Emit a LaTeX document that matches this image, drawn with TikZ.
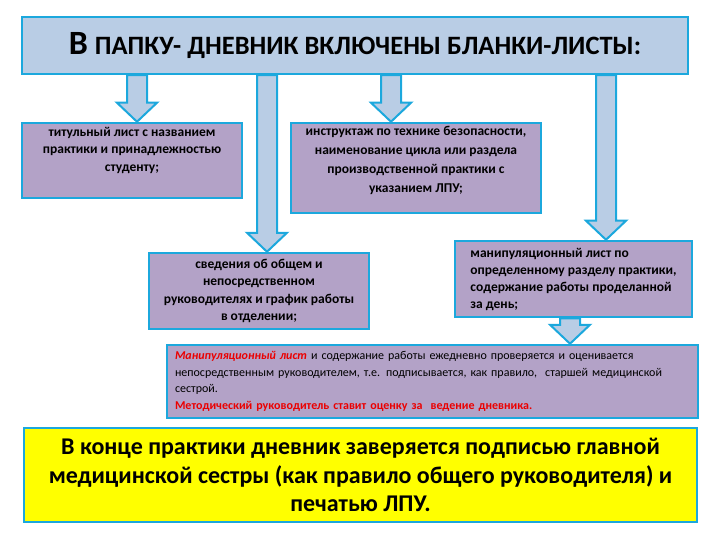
\documentclass[tikz,border=0pt]{standalone}
\usepackage{fontspec}
\setmainfont{Carlito}
\usepackage{tikz}
\usetikzlibrary{calc, backgrounds}
\definecolor{frameblue}{RGB}{28,168,221}
\definecolor{capblue}{RGB}{185,205,229}
\definecolor{sheetlilac}{RGB}{179,162,199}
\definecolor{noteyellow}{RGB}{255,255,0}
\definecolor{notered}{RGB}{235,0,0}
\tikzstyle{header} = [rectangle, draw=frameblue, line width=2.5pt, fill=capblue, minimum width=666pt, minimum height=57pt, text centered, font=\bfseries]
\tikzstyle{sheet} = [rectangle, draw=frameblue, line width=2.5pt, fill=sheetlilac, align=center, font=\bfseries\fontsize{13.5}{17.5}\selectfont]
\tikzstyle{summary} = [rectangle, draw=frameblue, line width=2.5pt, fill=noteyellow, align=center, minimum width=673pt, minimum height=94pt, font=\bfseries\fontsize{24}{28.5}\selectfont]
\tikzstyle{barrow} = [draw=frameblue, line width=2pt, fill=capblue, line join=miter]
% block arrow: #1 top point, #2 tip point
\newcommand{\blockarrow}[2]{%
  \draw[barrow] let \p1=(#1), \p2=(#2) in
    (\x1-10pt,\y1) -- (\x1+10pt,\y1) -- (\x1+10pt,\y2+19pt) -- (\x1+20pt,\y2+19pt)
    -- (\x1,\y2) -- (\x1-20pt,\y2+19pt) -- (\x1-10pt,\y2+19pt) -- cycle;}

\begin{document}
\begin{tikzpicture}[x=1pt, y=-1pt]
\useasboundingbox (0,0) rectangle (720,540);

\node (title) [header] at (355,45.5) {\fontsize{34}{36}\selectfont В\hspace{7pt}\fontsize{26.5}{36}\selectfont ПАПКУ- ДНЕВНИК ВКЛЮЧЕНЫ БЛАНКИ-ЛИСТЫ:};

\node (b1) [sheet, minimum width=220pt, minimum height=75pt, text depth=23pt] at (132,160.5) {титульный лист с названием\\практики и принадлежностью\\студенту;};
\node (b2) [sheet, minimum width=250pt, minimum height=90pt, text depth=17pt, font=\bfseries\fontsize{13.5}{19}\selectfont] at (416,168) {инструктаж по технике безопасности,\\наименование цикла или раздела\\производственной практики с\\указанием ЛПУ;};
\node (b3) [sheet, minimum width=220pt, minimum height=76pt] at (259,291) {сведения об общем и\\непосредственном\\руководителях и график работы\\в отделении;};
\node (b4) [sheet, minimum width=237pt, minimum height=76pt, align=left, font=\bfseries\fontsize{13.5}{17}\selectfont] at (573.5,279) {манипуляционный лист по\\определенному разделу практики,\\содержание работы проделанной\\за день;};
\node (b5) [sheet, minimum width=531pt, minimum height=73pt, text width=515pt, align=left, font=\mdseries\fontsize{12}{16.7}\selectfont] at (432.5,381.5) {\textcolor{notered}{\textbf{\textit{Манипуляционный лист}}} и содержание работы ежедневно проверяется и оценивается\\непосредственным руководителем, т.е. подписывается, как правило,\ \ старшей медицинской\\сестрой.\\\textcolor{notered}{\textbf{Методический руководитель ставит оценку за\ \ ведение дневника.}}};

\node (end) [summary] at (360.5,475) {В конце практики дневник заверяется подписью главной\\медицинской сестры (как правило общего руководителя) и\\печатью ЛПУ.};

\coordinate (ax1) at (137,0);
\coordinate (ax2) at (267,0);
\coordinate (ax3) at (391,0);
\coordinate (ax4) at (606,0);
\coordinate (ax5) at (570,0);

\begin{scope}[on background layer]
\blockarrow{title.south -| ax1}{b1.north -| ax1}
\blockarrow{title.south -| ax2}{b3.north -| ax2}
\blockarrow{title.south -| ax3}{b2.north -| ax3}
\blockarrow{title.south -| ax4}{b4.north -| ax4}
\blockarrow{b4.south -| ax5}{b5.north -| ax5}
\end{scope}
\end{tikzpicture}
\end{document}
